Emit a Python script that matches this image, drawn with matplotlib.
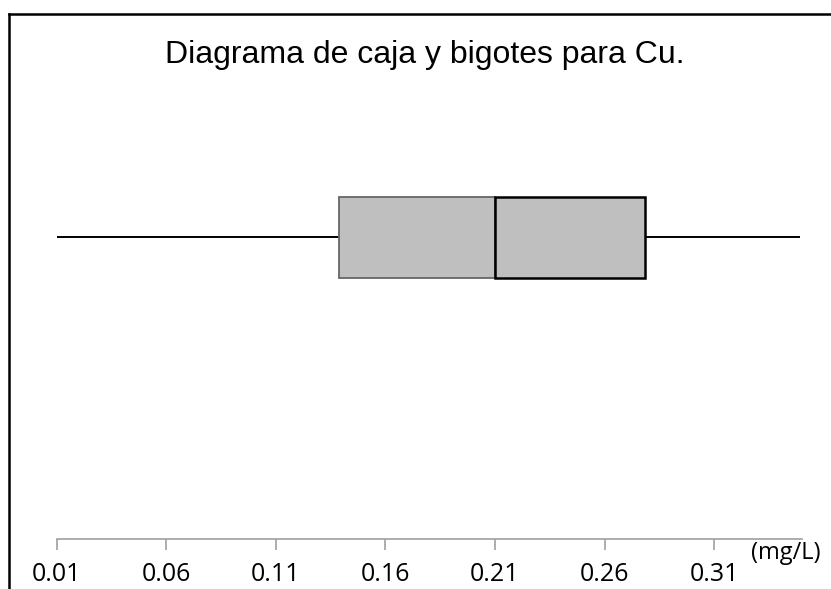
import matplotlib
matplotlib.use("Agg")
import matplotlib.pyplot as plt
from matplotlib.lines import Line2D

# Data (mg/L)
cu_min = 0.01
cu_q1 = 0.139
cu_median = 0.21
cu_q3 = 0.2785
cu_max = 0.349
tick_values = [0.01, 0.06, 0.11, 0.16, 0.21, 0.26, 0.31]
tick_labels = ["0.01", "0.06", "0.11", "0.16", "0.21", "0.26", "0.31"]
title = "Diagrama de caja y bigotes para Cu."
unit_label = "(mg/L)"

W, H = 831, 589
fig = plt.figure(figsize=(W / 100, H / 100), dpi=100)
fig.patch.set_facecolor("white")

ax_left = 56.5 / W
ax_right = 801.8 / W
ax_bottom = (H - 539.3) / H
ax_top = (H - 100) / H
ax = fig.add_axes([ax_left, ax_bottom, ax_right - ax_left, ax_top - ax_bottom])
ax.set_xlim(0.01, 0.35)
ax.set_ylim(0, 1)

yc = 0.6875
bh = 0.1844

# whiskers
ax.hlines(yc, cu_min, cu_q1, color="black", lw=1.4, zorder=2)
ax.hlines(yc, cu_q3, cu_max, color="black", lw=1.4, zorder=2)
# lower box
ax.barh(yc, cu_median - cu_q1, left=cu_q1, height=bh, color="#BFBFBF",
        edgecolor="#666666", linewidth=1.3, zorder=3)
# upper box
ax.barh(yc, cu_q3 - cu_median, left=cu_median, height=bh, color="#BFBFBF",
        edgecolor="black", linewidth=1.8, zorder=4)

for s in ["left", "right", "top"]:
    ax.spines[s].set_visible(False)
ax.spines["bottom"].set_color("#A0A0A0")
ax.spines["bottom"].set_linewidth(1.2)
ax.set_yticks([])
ax.set_xticks(tick_values)
ax.set_xticklabels(tick_labels, fontfamily="Open Sans", fontsize=18, color="black")
ax.tick_params(axis="x", direction="out", length=8, width=1.2, color="#A0A0A0", pad=8)

fig.text(425 / W, (H - 63) / H, title, ha="center", va="baseline",
         fontfamily="Liberation Sans", fontsize=23, color="black")
fig.text(786 / W, (H - 553) / H, unit_label, ha="center", va="center",
         fontfamily="Open Sans", fontsize=17, color="black")

# chart-area frame (cropped on right and bottom)
fig.add_artist(Line2D([9 / W, 9 / W], [0, (H - 14) / H], transform=fig.transFigure,
                      color="black", lw=1.8))
fig.add_artist(Line2D([9 / W, 1.0], [(H - 14) / H, (H - 14) / H], transform=fig.transFigure,
                      color="black", lw=1.8))

fig.savefig("out.png", dpi=100)
